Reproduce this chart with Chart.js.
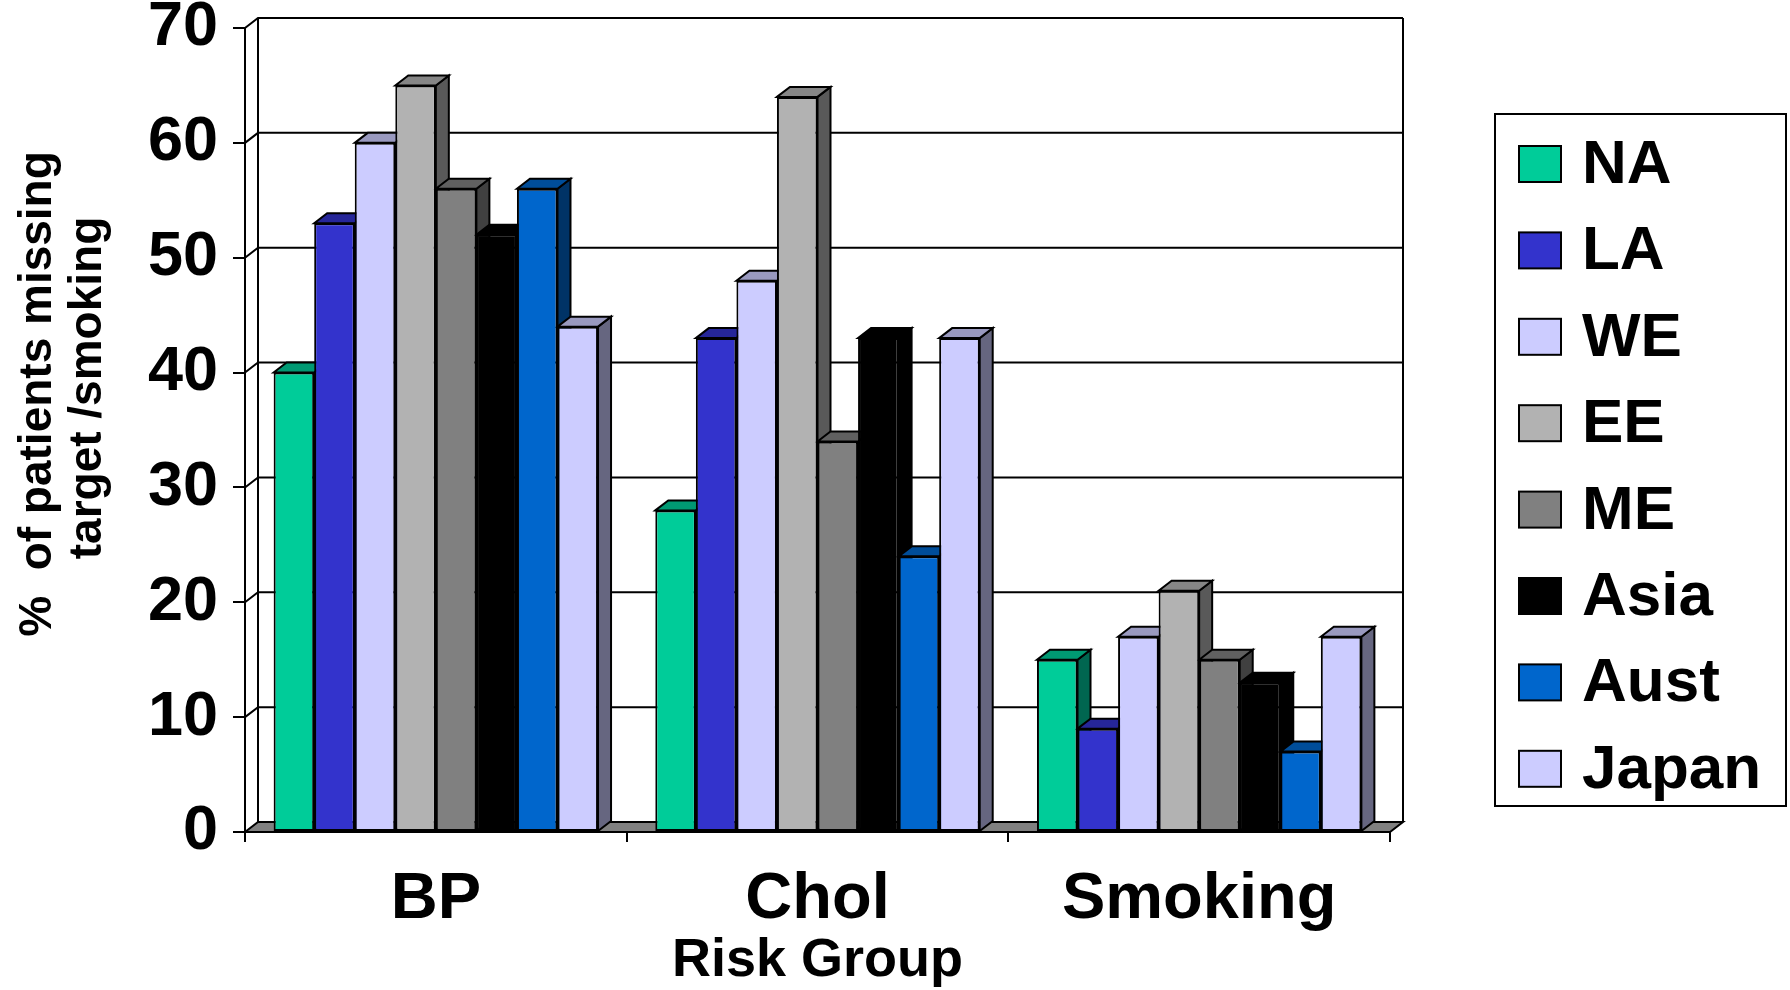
<!DOCTYPE html>
<html>
<head>
<meta charset="utf-8">
<title>Patients missing target by risk group</title>
<script src="https://cdn.jsdelivr.net/npm/chart.js@4.4.1/dist/chart.umd.min.js"></script>
<style>
  html, body { margin: 0; padding: 0; background: #fff; }
  #wrap { width: 1790px; height: 990px; position: relative; }
</style>
</head>
<body>
<div id="wrap"><canvas id="chart"></canvas></div>
<script>
// ---- data ----
const categories = ['BP', 'Chol', 'Smoking'];
const regions = ['NA', 'LA', 'WE', 'EE', 'ME', 'Asia', 'Aust', 'Japan'];

const valuesNA    = [40, 28, 15];
const valuesLA    = [53, 43, 9];
const valuesWE    = [60, 48, 17];
const valuesEE    = [65, 64, 21];
const valuesME    = [56, 34, 15];
const valuesAsia  = [52, 43, 13];
const valuesAust  = [56, 24, 7];
const valuesJapan = [44, 43, 17];
const seriesValues = [valuesNA, valuesLA, valuesWE, valuesEE, valuesME, valuesAsia, valuesAust, valuesJapan];

const yTickValues = [0, 10, 20, 30, 40, 50, 60, 70];
const yTitleLines = ['%  of patients missing', 'target /smoking'];
const xTitle = 'Risk Group';

// front / top / side colours of each region's bars
const frontColors = ['#00cc99', '#3333cc', '#ccccff', '#b2b2b2', '#808080', '#000000', '#0066cc', '#ccccff'];
const topColors   = ['#009973', '#262699', '#9999bf', '#868686', '#606060', '#000000', '#004d99', '#9999bf'];
const sideColors  = ['#006650', '#1a1a66', '#666680', '#595959', '#404040', '#000000', '#003366', '#666680'];

const FONT = '"Liberation Sans", Arial, Helvetica, sans-serif';
const DX = 13, DY = 10;   // depth of the 3d look

function poly(ctx, pts) {
    ctx.beginPath();
    ctx.moveTo(pts[0][0], pts[0][1]);
    for (let i = 1; i < pts.length; i++) ctx.lineTo(pts[i][0], pts[i][1]);
    ctx.closePath();
    ctx.fill();
    ctx.stroke();
}

// walls, floor and the depth faces of the bars
const box3d = {
    id: 'box3d',
    beforeDatasetsDraw(chart) {
        const { ctx, chartArea: a } = chart;
        const yScale = chart.scales.y;
        ctx.save();
        ctx.lineWidth = 2;
        ctx.strokeStyle = '#000';

        ctx.beginPath();
        yScale.ticks.forEach(t => {
            if (t.value === 0) return;
            const py = yScale.getPixelForValue(t.value);
            ctx.moveTo(a.left, py);
            ctx.lineTo(a.left + DX, py - DY);
            ctx.lineTo(a.right + DX, py - DY);
        });
        ctx.moveTo(a.left + DX, a.top - DY);
        ctx.lineTo(a.left + DX, a.bottom - DY);
        ctx.moveTo(a.right + DX, a.top - DY);
        ctx.lineTo(a.right + DX, a.bottom - DY);
        ctx.stroke();

        // floor
        ctx.fillStyle = '#808080';
        poly(ctx, [[a.left, a.bottom], [a.left + DX, a.bottom - DY], [a.right + DX, a.bottom - DY], [a.right, a.bottom]]);

        // sides and tops, left to right inside each group
        chart.data.datasets.forEach((ds, i) => {
            chart.getDatasetMeta(i).data.forEach(bar => {
                const p = bar.getProps(['x', 'y', 'base', 'width'], true);
                const l = p.x - p.width / 2, r = p.x + p.width / 2;
                ctx.fillStyle = sideColors[i];
                poly(ctx, [[r, p.y], [r + DX, p.y - DY], [r + DX, p.base - DY], [r, p.base]]);
                ctx.fillStyle = topColors[i];
                poly(ctx, [[l, p.y], [l + DX, p.y - DY], [r + DX, p.y - DY], [r, p.y]]);
            });
        });
        ctx.restore();
    },
    afterDraw(chart) {
        const ctx = chart.ctx;
        ctx.save();
        ctx.fillStyle = '#000';

        // y axis title (two rotated lines)
        ctx.font = 'bold 46px ' + FONT;
        ctx.textAlign = 'center';
        ctx.textBaseline = 'middle';
        const titleX = [38, 88], titleY = [394, 388];
        yTitleLines.forEach((line, k) => {
            ctx.save();
            ctx.translate(titleX[k], titleY[k]);
            ctx.rotate(-Math.PI / 2);
            ctx.fillText(line, 0, 0);
            ctx.restore();
        });

        // legend box
        ctx.lineWidth = 2;
        ctx.strokeStyle = '#000';
        ctx.strokeRect(1495, 114, 291, 692);
        ctx.font = 'bold 62px ' + FONT;
        ctx.textAlign = 'left';
        regions.forEach((name, i) => {
            const cy = 164 + i * 86.4;
            ctx.fillStyle = frontColors[i];
            ctx.fillRect(1519, cy - 18, 42, 36);
            ctx.strokeRect(1519, cy - 18, 42, 36);
            ctx.fillStyle = '#000';
            ctx.fillText(name, 1582, cy + 2);
        });
        ctx.restore();
    }
};

const datasets = regions.map((name, i) => ({
    label: name,
    data: seriesValues[i],
    backgroundColor: frontColors[i],
    borderColor: '#000',
    borderWidth: 2,
    borderSkipped: false
}));

new Chart(document.getElementById('chart'), {
    type: 'bar',
    data: { labels: categories, datasets: datasets },
    plugins: [box3d],
    options: {
        responsive: true,
        maintainAspectRatio: false,
        animation: false,
        devicePixelRatio: 1,
        layout: { padding: { left: 0, right: 400, top: 28, bottom: 0 } },
        datasets: { bar: { categoryPercentage: 0.85, barPercentage: 1.0 } },
        plugins: { legend: { display: false }, tooltip: { enabled: false } },
        scales: {
            x: {
                offset: true,
                grid: { drawOnChartArea: false, drawTicks: true, tickLength: 10, color: '#000', lineWidth: 2, offset: true },
                border: { display: true, color: '#000', width: 2 },
                ticks: { color: '#000', padding: 19, maxRotation: 0, font: { family: FONT, size: 65, weight: 'bold' } },
                title: { display: true, text: xTitle, color: '#000', padding: { top: 0, bottom: 2 },
                         font: { family: FONT, size: 54, weight: 'bold', lineHeight: 1 } },
                afterFit: s => { s.height = 158; }
            },
            y: {
                min: 0,
                max: 70,
                afterBuildTicks: s => { s.ticks = yTickValues.map(v => ({ value: v })); },
                grid: { drawOnChartArea: false, drawTicks: true, tickLength: 12, color: '#000', lineWidth: 2 },
                border: { display: true, color: '#000', width: 2 },
                ticks: { color: '#000', padding: 15, font: { family: FONT, size: 63, weight: 'bold', lineHeight: 0.3 } },
                afterFit: s => { s.width = 245; }
            }
        }
    }
});
</script>
</body>
</html>
